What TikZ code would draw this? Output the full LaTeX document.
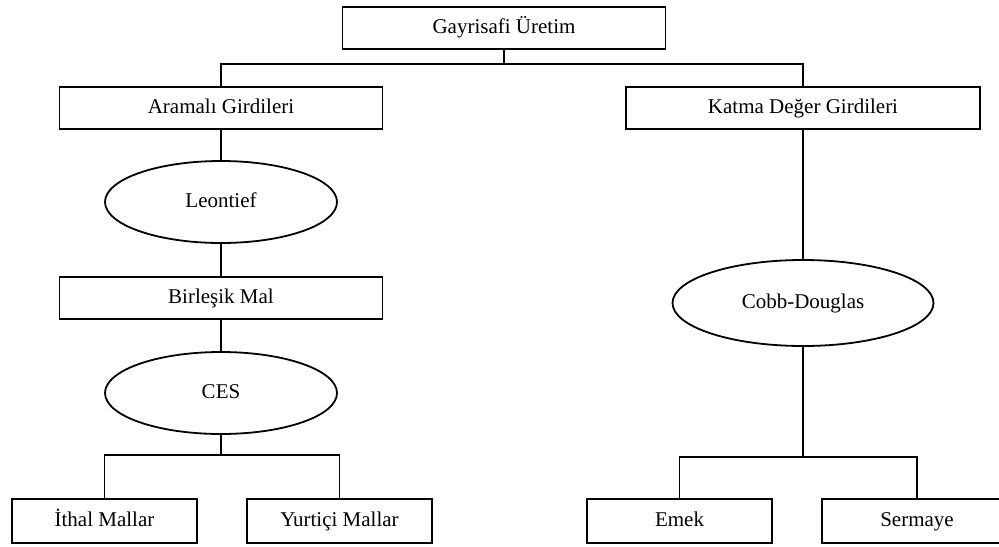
\documentclass[tikz,border=0pt]{standalone}
\usepackage{fontspec}
\setmainfont{Liberation Serif}
\usepackage{tikz}
\usetikzlibrary{shapes.geometric, positioning, calc}

\begin{document}
\begin{tikzpicture}[x=0.5pt, y=-0.5pt,
  every node/.style={font=\fontsize{10.5}{12}\selectfont,
    text height=7.4pt, text depth=2.4pt},
  stage/.style={rectangle, draw, line width=0.9pt, inner sep=0pt,
    minimum height=21pt},
  leaf/.style={rectangle, draw, line width=0.9pt, inner sep=0pt,
    minimum height=22pt, minimum width=92.5pt},
  func/.style={ellipse, draw, line width=0.9pt, inner sep=0pt,
    minimum width=116pt, minimum height=41pt},
  link/.style={line width=0.9pt}
]
  \useasboundingbox (0,0) rectangle (999,546);
  % top of the tree
  \node[stage, minimum width=161.5pt] (gross) at (504,28) {Gayrisafi Üretim};
  \node[stage, minimum width=161.5pt] (interm) at (221,108) {Aramalı Girdileri};
  \node[stage, minimum width=177pt] (value) at (803,108) {Katma Değer Girdileri};
  % left branch
  \node[func] (leon) at (221,202) {Leontief};
  \node[stage, minimum width=161.5pt] (comp) at (221,298) {Birleşik Mal};
  \node[func] (ces) at (221,393) {CES};
  \node[leaf] (imp) at (104.5,521) {İthal Mallar};
  \node[leaf] (dom) at (339.5,521) {Yurtiçi Mallar};
  % right branch
  \node[func, minimum width=130.5pt, minimum height=43pt] (cobb) at (803,303) {Cobb-Douglas};
  \node[leaf] (labor) at (679.5,521) {Emek};
  \node[leaf, minimum width=95pt] (capital) at (917,521) {Sermaye};

  \coordinate (topJ) at ([yshift=-7pt]gross.south);
  \coordinate (cesJ) at ([yshift=-10pt]ces.south);
  \coordinate (cobbJ) at ([yshift=-55pt]cobb.south);

  \draw[link] (gross.south) -- (topJ);
  \draw[link] (interm.north) |- (topJ) -| (value.north);
  \draw[link] (interm) -- (leon);
  \draw[link] (leon) -- (comp);
  \draw[link] (comp) -- (ces);
  \draw[link] (ces.south) -- (cesJ);
  \draw[link] (imp.north) |- (cesJ) -| (dom.north);
  \draw[link] (value) -- (cobb);
  \draw[link] (cobb.south) -- (cobbJ);
  \draw[link] (labor.north) |- (cobbJ) -| (capital.north);
\end{tikzpicture}
\end{document}
